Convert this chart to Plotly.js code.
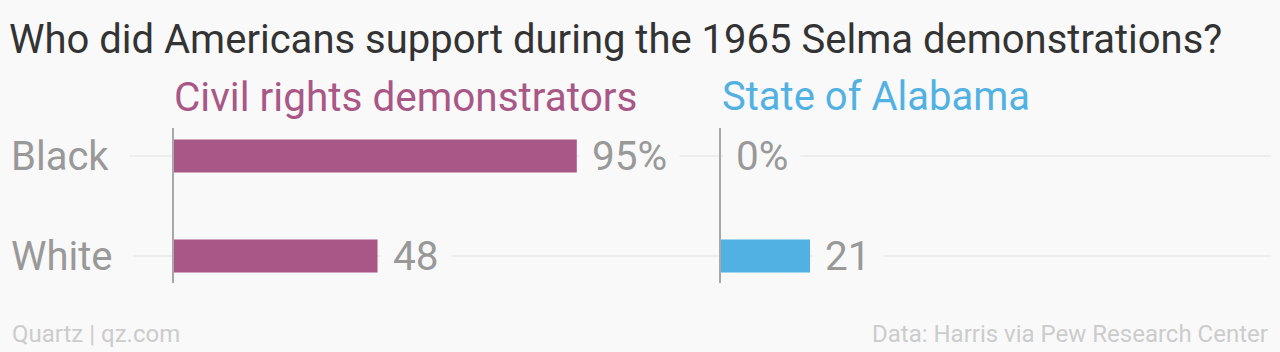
<!DOCTYPE html>
<html>
<head>
<meta charset="utf-8">
<script src="https://cdn.plot.ly/plotly-3.0.1.min.js"></script>
<style>
  html, body { margin: 0; padding: 0; background: #f9f9f9; }
  #chart { width: 1280px; height: 352px; }
</style>
</head>
<body>
<div id="chart"></div>
<script>
// ---- data ----
const categories = ['Black', 'White'];
const civilRights = [95, 48];
const alabama = [0, 21];
const civilRightsLabels = ['95%', '48'];
const alabamaLabels = ['0%', '21'];
const panelTitles = ['Civil rights demonstrators', 'State of Alabama'];
const chartTitle = 'Who did Americans support during the 1965 Selma demonstrations?';
const sourceLeft = 'Quartz | qz.com';
const sourceRight = 'Data: Harris via Pew Research Center';

// ---- style ----
const FONT = 'Roboto, "Open Sans", sans-serif';
const BG = '#f9f9f9';
const PURPLE = '#a95786';
const BLUE = '#52b1e3';
const GREY = '#999999';
const W = 1280, H = 352;
const PX_PER_UNIT = 4.24;

const x1Dom = [174 / W, 700 / W];
const x2Dom = [721 / W, 1271 / W];
const yDom = [(H - 283) / H, (H - 128) / H];
const yRange = [1.27, -0.28];

const traces = [
  {
    type: 'bar', orientation: 'h', y: categories, x: civilRights,
    xaxis: 'x', yaxis: 'y', width: 0.33,
    marker: { color: PURPLE }, hoverinfo: 'skip'
  },
  {
    type: 'bar', orientation: 'h', y: categories, x: alabama,
    xaxis: 'x2', yaxis: 'y2', width: 0.33,
    marker: { color: BLUE }, hoverinfo: 'skip'
  }
];

const hiddenX = {
  showgrid: false, zeroline: false, showticklabels: false, showline: false, fixedrange: true
};
const yAx = {
  type: 'category', domain: yDom, range: yRange,
  showgrid: false, zeroline: false, showticklabels: false,
  showline: true, linecolor: '#a8a8a8', linewidth: 2, fixedrange: true
};

const shapes = categories.map(c => ({
  type: 'line', xref: 'paper', yref: 'y', x0: 0, x1: 1271 / W, y0: c, y1: c,
  line: { color: '#e8e8e8', width: 1.5 }, layer: 'below'
}));

const annotations = [];
// category labels
categories.forEach(c => annotations.push({
  text: c, xref: 'paper', yref: 'y', x: 0, y: c, xanchor: 'left', yanchor: 'middle',
  xshift: -10, showarrow: false, bgcolor: BG, borderpad: 20,
  font: { family: FONT, size: 40, color: GREY }
}));
// value labels
categories.forEach((c, i) => {
  annotations.push({
    text: civilRightsLabels[i], xref: 'x', yref: 'y', x: civilRights[i], y: c,
    xanchor: 'left', yanchor: 'middle', xshift: 2, showarrow: false,
    bgcolor: BG, borderpad: 12, font: { family: FONT, size: 40.5, color: GREY }
  });
  annotations.push({
    text: alabamaLabels[i], xref: 'x2', yref: 'y2', x: alabama[i], y: c,
    xanchor: 'left', yanchor: 'middle', xshift: 2, showarrow: false,
    bgcolor: BG, borderpad: 12, font: { family: FONT, size: 40.5, color: GREY }
  });
});
// panel titles
annotations.push({
  text: panelTitles[0], xref: 'x', yref: 'paper', x: 0, y: (H - 97) / H,
  xanchor: 'left', yanchor: 'middle', xshift: -2, showarrow: false,
  font: { family: FONT, size: 40.5, color: PURPLE }
});
annotations.push({
  text: panelTitles[1], xref: 'x2', yref: 'paper', x: 0, y: (H - 97) / H,
  xanchor: 'left', yanchor: 'middle', xshift: -1, showarrow: false,
  font: { family: FONT, size: 40, color: BLUE }
});
// footer
annotations.push({
  text: sourceLeft, xref: 'paper', yref: 'paper', x: 10 / W, y: (H - 334) / H,
  xanchor: 'left', yanchor: 'middle', showarrow: false,
  font: { family: FONT, size: 24, color: '#cccccc' }
});
annotations.push({
  text: sourceRight, xref: 'paper', yref: 'paper', x: 1270 / W, y: (H - 334) / H,
  xanchor: 'right', yanchor: 'middle', showarrow: false,
  font: { family: FONT, size: 24, color: '#cccccc' }
});

const layout = {
  width: W, height: H,
  margin: { l: 0, r: 0, t: 0, b: 0 },
  paper_bgcolor: BG, plot_bgcolor: 'rgba(0,0,0,0)',
  showlegend: false,
  title: {
    text: chartTitle, x: 9 / W, xanchor: 'left', xref: 'paper',
    y: (H - 39) / H, yanchor: 'middle', yref: 'paper',
    font: { family: FONT, size: 40, color: '#333333' }
  },
  xaxis: Object.assign({ domain: x1Dom, range: [0, (700 - 174) / PX_PER_UNIT], anchor: 'y' }, hiddenX),
  xaxis2: Object.assign({ domain: x2Dom, range: [0, (1271 - 721) / PX_PER_UNIT], anchor: 'y2' }, hiddenX),
  yaxis: Object.assign({ anchor: 'x' }, yAx),
  yaxis2: Object.assign({ anchor: 'x2' }, yAx),
  shapes: shapes,
  annotations: annotations
};

Plotly.newPlot('chart', traces, layout, { displayModeBar: false, staticPlot: true });
</script>
</body>
</html>
